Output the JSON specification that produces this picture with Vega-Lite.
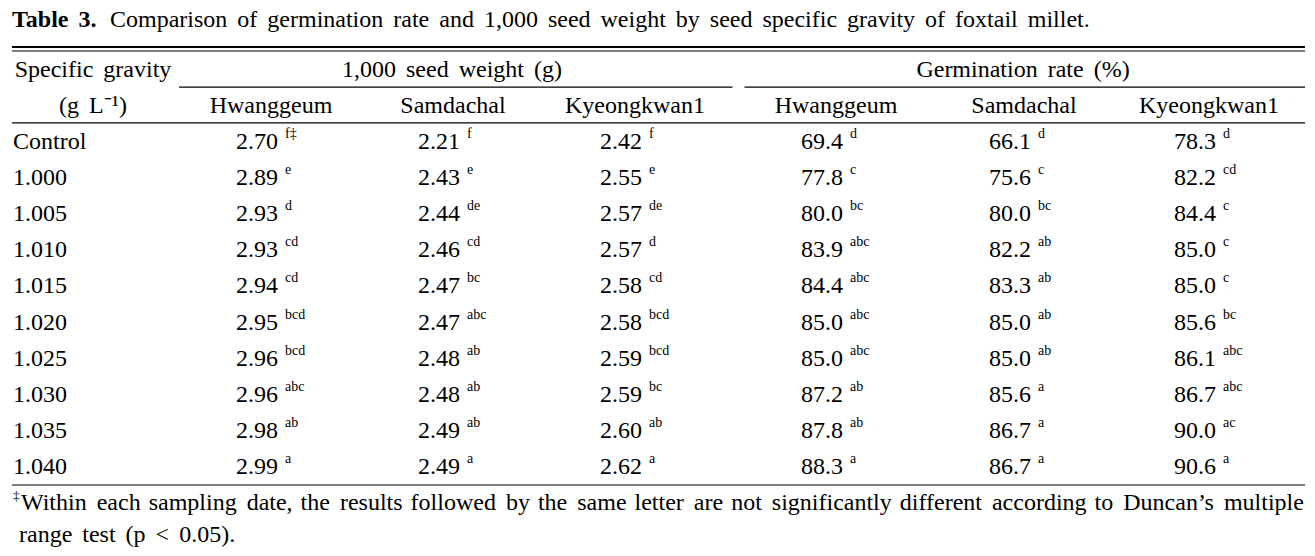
{
  "$schema": "https://vega.github.io/schema/vega-lite/v6.json",
  "width": 1315,
  "height": 556,
  "autosize": {"type": "fit", "contains": "padding"},
  "padding": 0,
  "background": "white",
  "config": {
    "view": {"stroke": null},
    "text": {"font": "Liberation Serif", "fontSize": 24, "color": "black", "baseline": "middle"},
    "rule": {"color": "black"}
  },
  "datasets": {
    "cells": [
      {"r": 1, "c": 1, "v": "2.70", "s": "f‡"}, {"r": 1, "c": 2, "v": "2.21", "s": "f"}, {"r": 1, "c": 3, "v": "2.42", "s": "f"}, {"r": 1, "c": 4, "v": "69.4", "s": "d"}, {"r": 1, "c": 5, "v": "66.1", "s": "d"}, {"r": 1, "c": 6, "v": "78.3", "s": "d"},
      {"r": 2, "c": 1, "v": "2.89", "s": "e"}, {"r": 2, "c": 2, "v": "2.43", "s": "e"}, {"r": 2, "c": 3, "v": "2.55", "s": "e"}, {"r": 2, "c": 4, "v": "77.8", "s": "c"}, {"r": 2, "c": 5, "v": "75.6", "s": "c"}, {"r": 2, "c": 6, "v": "82.2", "s": "cd"},
      {"r": 3, "c": 1, "v": "2.93", "s": "d"}, {"r": 3, "c": 2, "v": "2.44", "s": "de"}, {"r": 3, "c": 3, "v": "2.57", "s": "de"}, {"r": 3, "c": 4, "v": "80.0", "s": "bc"}, {"r": 3, "c": 5, "v": "80.0", "s": "bc"}, {"r": 3, "c": 6, "v": "84.4", "s": "c"},
      {"r": 4, "c": 1, "v": "2.93", "s": "cd"}, {"r": 4, "c": 2, "v": "2.46", "s": "cd"}, {"r": 4, "c": 3, "v": "2.57", "s": "d"}, {"r": 4, "c": 4, "v": "83.9", "s": "abc"}, {"r": 4, "c": 5, "v": "82.2", "s": "ab"}, {"r": 4, "c": 6, "v": "85.0", "s": "c"},
      {"r": 5, "c": 1, "v": "2.94", "s": "cd"}, {"r": 5, "c": 2, "v": "2.47", "s": "bc"}, {"r": 5, "c": 3, "v": "2.58", "s": "cd"}, {"r": 5, "c": 4, "v": "84.4", "s": "abc"}, {"r": 5, "c": 5, "v": "83.3", "s": "ab"}, {"r": 5, "c": 6, "v": "85.0", "s": "c"},
      {"r": 6, "c": 1, "v": "2.95", "s": "bcd"}, {"r": 6, "c": 2, "v": "2.47", "s": "abc"}, {"r": 6, "c": 3, "v": "2.58", "s": "bcd"}, {"r": 6, "c": 4, "v": "85.0", "s": "abc"}, {"r": 6, "c": 5, "v": "85.0", "s": "ab"}, {"r": 6, "c": 6, "v": "85.6", "s": "bc"},
      {"r": 7, "c": 1, "v": "2.96", "s": "bcd"}, {"r": 7, "c": 2, "v": "2.48", "s": "ab"}, {"r": 7, "c": 3, "v": "2.59", "s": "bcd"}, {"r": 7, "c": 4, "v": "85.0", "s": "abc"}, {"r": 7, "c": 5, "v": "85.0", "s": "ab"}, {"r": 7, "c": 6, "v": "86.1", "s": "abc"},
      {"r": 8, "c": 1, "v": "2.96", "s": "abc"}, {"r": 8, "c": 2, "v": "2.48", "s": "ab"}, {"r": 8, "c": 3, "v": "2.59", "s": "bc"}, {"r": 8, "c": 4, "v": "87.2", "s": "ab"}, {"r": 8, "c": 5, "v": "85.6", "s": "a"}, {"r": 8, "c": 6, "v": "86.7", "s": "abc"},
      {"r": 9, "c": 1, "v": "2.98", "s": "ab"}, {"r": 9, "c": 2, "v": "2.49", "s": "ab"}, {"r": 9, "c": 3, "v": "2.60", "s": "ab"}, {"r": 9, "c": 4, "v": "87.8", "s": "ab"}, {"r": 9, "c": 5, "v": "86.7", "s": "a"}, {"r": 9, "c": 6, "v": "90.0", "s": "ac"},
      {"r": 10, "c": 1, "v": "2.99", "s": "a"}, {"r": 10, "c": 2, "v": "2.49", "s": "a"}, {"r": 10, "c": 3, "v": "2.62", "s": "a"}, {"r": 10, "c": 4, "v": "88.3", "s": "a"}, {"r": 10, "c": 5, "v": "86.7", "s": "a"}, {"r": 10, "c": 6, "v": "90.6", "s": "a"}
    ],
    "rowLabels": [
      {"r": 1, "c": 0, "t": "Control"}, {"r": 2, "c": 0, "t": "1.000"}, {"r": 3, "c": 0, "t": "1.005"}, {"r": 4, "c": 0, "t": "1.010"}, {"r": 5, "c": 0, "t": "1.015"},
      {"r": 6, "c": 0, "t": "1.020"}, {"r": 7, "c": 0, "t": "1.025"}, {"r": 8, "c": 0, "t": "1.030"}, {"r": 9, "c": 0, "t": "1.035"}, {"r": 10, "c": 0, "t": "1.040"}
    ],
    "subHeaders": [
      {"r": 0, "c": 1, "t": "Hwanggeum"}, {"r": 0, "c": 2, "t": "Samdachal"}, {"r": 0, "c": 3, "t": "Kyeongkwan1"},
      {"r": 0, "c": 4, "t": "Hwanggeum"}, {"r": 0, "c": 5, "t": "Samdachal"}, {"r": 0, "c": 6, "t": "Kyeongkwan1"}
    ],
    "groupHeaders": [
      {"r": -1, "c": 2, "t": "1,000 \u2006seed \u2006weight \u2006(g)"}, {"r": -1, "c": 5, "t": "Germination \u2006rate \u2006(%)"}
    ],
    "stubHeaders": [
      {"r": -1, "c": 0, "t": "Specific \u2006gravity"}, {"r": 0, "c": 0, "t": "(g \u2006L⁻¹)"}
    ],
    "titleBold": [{"r": -2.38, "c": 0, "t": "Table \u20063."}],
    "titleRest": [{"r": -2.38, "c": 0, "t": "Comparison \u2006of \u2006germination \u2006rate \u2006and \u20061,000 \u2006seed \u2006weight \u2006by \u2006seed \u2006specific \u2006gravity \u2006of \u2006foxtail \u2006millet."}],
    "footMark": [{"r": 11, "c": 0, "t": "‡"}],
    "foot1": [{"r": 11, "c": 0, "t": "Within \u2006each \u200Asampling \u2006date, \u200Athe \u2006results \u200Afollowed \u2006by \u200Athe \u2006same \u200Aletter \u2006are \u200Anot \u2006significantly \u200Adifferent \u2006according \u200Ato \u2006Duncan’s \u2006multiple"}],
    "foot2": [{"r": 11.88, "c": 0, "t": "range \u2006test \u2006(p \u2006< \u20060.05)."}],
    "thickRules": [{"r": -1.63, "c": 0, "c2": 7}],
    "thinRules": [
      {"r": -1.52, "c": 0, "c2": 7},
      {"r": -0.52, "c": 0.628, "c2": 3.45},
      {"r": -0.52, "c": 3.51, "c2": 7},
      {"r": 0.47, "c": 0, "c2": 7},
      {"r": 10.5, "c": 0, "c2": 7}
    ]
  },
  "layer": [
    {
      "data": {"name": "thickRules"},
      "mark": {"type": "rule", "strokeWidth": 2},
      "encoding": {
        "x": {"field": "c", "type": "quantitative", "axis": null, "scale": {"type": "linear", "domain": [0, 1, 2, 3, 4, 5, 6, 7], "range": [12, 278, 460, 642, 843, 1031, 1216, 1305], "zero": false, "nice": false}},
        "x2": {"field": "c2"},
        "y": {"field": "r", "type": "quantitative", "axis": null, "scale": {"type": "linear", "domain": [1, 10], "range": [142, 467], "zero": false, "nice": false}}
      }
    },
    {
      "data": {"name": "thinRules"},
      "mark": {"type": "rule", "strokeWidth": 1.1},
      "encoding": {
        "x": {"field": "c", "type": "quantitative", "axis": null},
        "x2": {"field": "c2"},
        "y": {"field": "r", "type": "quantitative", "axis": null}
      }
    },
    {
      "data": {"name": "titleBold"},
      "mark": {"type": "text", "align": "left", "fontWeight": "bold"},
      "encoding": {
        "x": {"field": "c", "type": "quantitative", "axis": null},
        "y": {"field": "r", "type": "quantitative", "axis": null},
        "text": {"field": "t"}
      }
    },
    {
      "data": {"name": "titleRest"},
      "mark": {"type": "text", "align": "left", "dx": 98},
      "encoding": {
        "x": {"field": "c", "type": "quantitative", "axis": null},
        "y": {"field": "r", "type": "quantitative", "axis": null},
        "text": {"field": "t"}
      }
    },
    {
      "data": {"name": "groupHeaders"},
      "mark": {"type": "text", "align": "center", "dx": -8},
      "encoding": {
        "x": {"field": "c", "type": "quantitative", "axis": null},
        "y": {"field": "r", "type": "quantitative", "axis": null},
        "text": {"field": "t"}
      }
    },
    {
      "data": {"name": "subHeaders"},
      "mark": {"type": "text", "align": "center", "dx": -7},
      "encoding": {
        "x": {"field": "c", "type": "quantitative", "axis": null},
        "y": {"field": "r", "type": "quantitative", "axis": null},
        "text": {"field": "t"}
      }
    },
    {
      "data": {"name": "stubHeaders"},
      "mark": {"type": "text", "align": "center", "dx": 81},
      "encoding": {
        "x": {"field": "c", "type": "quantitative", "axis": null},
        "y": {"field": "r", "type": "quantitative", "axis": null},
        "text": {"field": "t"}
      }
    },
    {
      "data": {"name": "rowLabels"},
      "mark": {"type": "text", "align": "left", "dx": 1},
      "encoding": {
        "x": {"field": "c", "type": "quantitative", "axis": null},
        "y": {"field": "r", "type": "quantitative", "axis": null},
        "text": {"field": "t"}
      }
    },
    {
      "data": {"name": "cells"},
      "mark": {"type": "text", "align": "right"},
      "encoding": {
        "x": {"field": "c", "type": "quantitative", "axis": null},
        "y": {"field": "r", "type": "quantitative", "axis": null},
        "text": {"field": "v"}
      }
    },
    {
      "data": {"name": "cells"},
      "mark": {"type": "text", "align": "left", "dx": 7, "dy": -8, "fontSize": 14},
      "encoding": {
        "x": {"field": "c", "type": "quantitative", "axis": null},
        "y": {"field": "r", "type": "quantitative", "axis": null},
        "text": {"field": "s"}
      }
    },
    {
      "data": {"name": "footMark"},
      "mark": {"type": "text", "align": "left", "dx": 1, "dy": -7, "fontSize": 13},
      "encoding": {
        "x": {"field": "c", "type": "quantitative", "axis": null},
        "y": {"field": "r", "type": "quantitative", "axis": null},
        "text": {"field": "t"}
      }
    },
    {
      "data": {"name": "foot1"},
      "mark": {"type": "text", "align": "left", "dx": 9},
      "encoding": {
        "x": {"field": "c", "type": "quantitative", "axis": null},
        "y": {"field": "r", "type": "quantitative", "axis": null},
        "text": {"field": "t"}
      }
    },
    {
      "data": {"name": "foot2"},
      "mark": {"type": "text", "align": "left", "dx": 7},
      "encoding": {
        "x": {"field": "c", "type": "quantitative", "axis": null},
        "y": {"field": "r", "type": "quantitative", "axis": null},
        "text": {"field": "t"}
      }
    }
  ]
}
